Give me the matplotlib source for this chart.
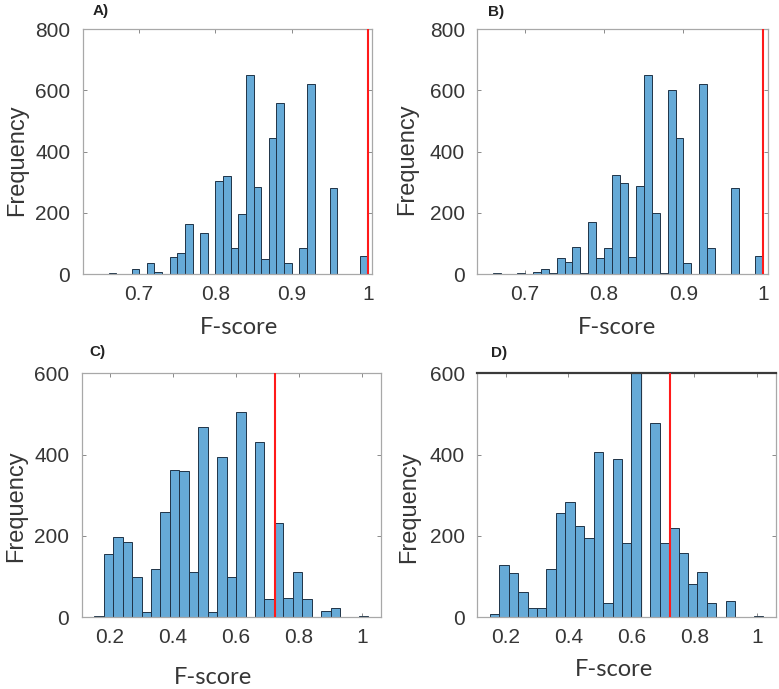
import matplotlib.pyplot as plt
import numpy as np

plt.rcParams['font.family'] = ['Liberation Sans', 'DejaVu Sans']

# panels A and B: bins of width 0.01 starting at 0.66
ab_start = 0.66
ab_width = 0.01
counts_a = [3, 0, 0, 15, 0, 35, 5, 0, 55, 70, 165, 0, 135, 0, 305, 320, 85, 195, 650, 285,
            50, 445, 560, 35, 0, 85, 620, 0, 0, 280, 0, 0, 0, 60]
counts_b = [2, 0, 0, 3, 0, 6, 15, 2, 51, 40, 89, 3, 169, 53, 86, 324, 297, 57, 288, 650,
            198, 2, 600, 445, 37, 0, 620, 84, 0, 0, 280, 0, 0, 60]

# panels C and D: bins of width 0.03 starting at 0.15
cd_start = 0.15
cd_width = 0.03
counts_c = [4, 155, 197, 184, 98, 12, 120, 260, 362, 360, 111, 469, 12, 393, 98, 506, 0, 430,
            45, 231, 48, 112, 45, 0, 16, 22, 0, 0, 2]
counts_d = [7, 129, 110, 61, 22, 22, 120, 257, 284, 225, 196, 407, 34, 389, 183, 605, 0, 479,
            182, 219, 157, 82, 111, 34, 0, 41, 0, 0, 2]

red_ab = 1.0
red_cd = 0.723

xticks_ab = [0.7, 0.8, 0.9, 1.0]
xticklabels_ab = ['0.7', '0.8', '0.9', '1']
xticks_cd = [0.2, 0.4, 0.6, 0.8, 1.0]
xticklabels_cd = ['0.2', '0.4', '0.6', '0.8', '1']

bar_color = '#66aad7'
text_color = '#363636'

W, H = 779, 689
fig = plt.figure(figsize=(W / 100, H / 100), dpi=100)


def px_axes(left, top, right, bottom):
    return fig.add_axes([left / W, 1 - bottom / H, (right - left) / W, (bottom - top) / H])


panels = [
    # label, box (px), counts, start, width, red, xlim, ymax, yticks, xticks, xlabels, label pos, xlabel pos, ylabel pos
    ('A)', (82.7, 29.3, 371.7, 274), counts_a, ab_start, ab_width, red_ab, (0.626, 1.005),
     800, [0, 200, 400, 600, 800], xticks_ab, xticklabels_ab, (101, 11), (238.5, 328), (17, 160)),
    ('B)', (477.3, 29.3, 768.3, 274), counts_b, ab_start, ab_width, red_ab, (0.64, 1.007),
     800, [0, 200, 400, 600, 800], xticks_ab, xticklabels_ab, (496, 12), (617, 328), (407, 159)),
    ('C)', (81.7, 373.3, 381, 617.3), counts_c, cd_start, cd_width, red_cd, (0.11, 1.06),
     600, [0, 200, 400, 600], xticks_cd, xticklabels_cd, (97, 352), (212.5, 678), (16, 506)),
    ('D)', (477.3, 373.3, 776, 617.3), counts_d, cd_start, cd_width, red_cd, (0.11, 1.06),
     600, [0, 200, 400, 600], xticks_cd, xticklabels_cd, (499, 353), (614, 670), (409, 507)),
]

for (lab, box, counts, start, width, red, xlim, ymax, yticks, xticks, xlabels,
     lab_pos, xl_pos, yl_pos) in panels:
    ax = px_axes(*box)
    counts = np.array(counts, dtype=float)
    lefts = start + width * np.arange(len(counts))
    keep = counts > 0
    ax.bar(lefts[keep], counts[keep], width=width, align='edge', color=bar_color,
           edgecolor='#1f3347', linewidth=0.7, zorder=2)
    ax.axvline(red, color='#ff1a1a', lw=1.5, zorder=3)
    ax.set_xlim(*xlim)
    ax.set_ylim(0, ymax)
    ax.set_xticks(xticks)
    ax.set_xticklabels(xlabels)
    ax.set_yticks(yticks)
    for s in ax.spines.values():
        s.set_color('#a8a8a8')
        s.set_linewidth(0.9)
    if lab == 'D)':
        ax.spines['top'].set_color('#3a3a3a')
        ax.spines['top'].set_linewidth(1.6)
        ax.axvline(0.632, color='#b0b0b0', lw=1.0, zorder=1)
    ax.tick_params(direction='in', length=3, width=0.7, color='#8a8a8a', top=True, right=True,
                   labelsize=15, labelcolor=text_color)
    ax.tick_params(axis='x', pad=8)
    ax.tick_params(axis='y', pad=9)

    fig.text(lab_pos[0] / W, 1 - lab_pos[1] / H, lab, ha='center', va='center',
             fontsize=11, fontweight='bold', color='#222222')
    fig.text(xl_pos[0] / W, 1 - xl_pos[1] / H, 'F-score', ha='center', va='center',
             fontsize=17, color=text_color, family='Lato')
    fig.text(yl_pos[0] / W, 1 - yl_pos[1] / H, 'Frequency', ha='center', va='center',
             rotation=90, fontsize=17, color=text_color)

fig.savefig('out.png', dpi=100)
